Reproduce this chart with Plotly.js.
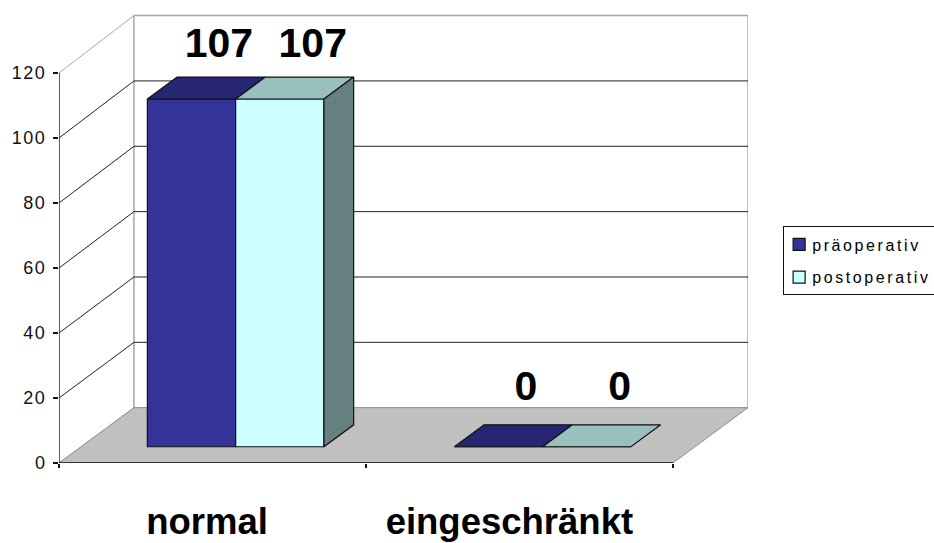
<!DOCTYPE html>
<html>
<head>
<meta charset="utf-8">
<script src="https://cdn.plot.ly/plotly-3.0.1.min.js"></script>
<style>
html,body{margin:0;padding:0;background:#fff;overflow:hidden}
#chart{width:934px;height:543px}
.legendtext{letter-spacing:2.6px;transform:translateX(-12px)}
.legendsymbols{transform:translateX(-5px)}
.ytick text{letter-spacing:1.5px}
</style>
</head>
<body>
<div id="chart"></div>
<script>
// Data
const categories = ["normal", "eingeschränkt"];
const seriesNames = ["präoperativ", "postoperativ"];
const praeoperativ = [107, 0];
const postoperativ = [107, 0];
const valueTicks = [0, 20, 40, 60, 80, 100, 120];

// Colours
const frontColors = ["#333399", "#CCFFFF"];
const topColors = ["#262673", "#99BFBF"];
const sideColors = ["#262673", "#667F7F"];

// Oblique projection of the Excel-style 3-D box, expressed in axis units
const unitsPerDepthX = 75 / 307;   // category units moved by one full depth
const unitsPerDepthY = 55.3 / 3.25; // value units moved by one full depth
const wallStretch = 0.0055;        // slight perspective of the back wall
const barWidth = 0.2876;
const gapLeft = 0.216;
const depthFront = 0.294;
const depthBack = 0.69;
const maxValue = 120;
const catCount = categories.length;
const labelLift = [3.4, 4.9];      // value units above the bar's mid depth
const labelSeriesNudge = 0.018;    // category units per series
const catLabelNudge = [-0.018, -0.033];

const px = (x, d) => x + d * unitsPerDepthX;
const py = (v, d) => v + d * unitsPerDepthY;
const wy = (v, d) => py(v, d) + v * d * wallStretch;

const ink = "#111";
const wallLine = "#a8a8a8";

function poly(points, fill, color, width) {
  const path = points.map((p, i) => (i ? "L" : "M") + p[0] + "," + p[1]).join(" ") + " Z";
  return {type: "path", xref: "x", yref: "y", layer: "below", path, fillcolor: fill,
          line: {color: color, width: width}};
}
function seg(a, b, color, width) {
  return {type: "line", xref: "x", yref: "y", layer: "below", x0: a[0], y0: a[1], x1: b[0], y1: b[1],
          line: {color: color, width: width}};
}

// Walls, floor, gridlines
const shapes = [];
shapes.push(poly([[px(0,0),wy(0,0)],[px(0,1),wy(0,1)],[px(0,1),wy(maxValue,1)],[px(0,0),wy(maxValue,0)]], "#ffffff", wallLine, 1));
shapes.push(poly([[px(0,1),wy(0,1)],[px(catCount,1),wy(0,1)],[px(catCount,1),wy(maxValue,1)],[px(0,1),wy(maxValue,1)]], "#ffffff", wallLine, 1.4));
valueTicks.filter(v => v > 0 && v < maxValue).forEach(v => {
  shapes.push(seg([px(0,0),wy(v,0)],[px(0,1),wy(v,1)], "#222", 1));
  shapes.push(seg([px(0,1),wy(v,1)],[px(catCount,1),wy(v,1)], "#222", 1));
});
shapes.push(poly([[px(0,0),wy(0,0)],[px(catCount,0),wy(0,0)],[px(catCount,1),wy(0,1)],[px(0,1),wy(0,1)]], "#C0C0C0", "#909090", 1));

const series = [praeoperativ, postoperativ];
const traces = [];

// Front faces as real bars, raised to the bars' depth on the floor
series.forEach((vals, s) => {
  traces.push({
    type: "bar", name: seriesNames[s], legendgroup: seriesNames[s],
    x: vals.map((_, c) => px(c + gapLeft + barWidth * (s + 0.5), depthFront)),
    y: vals,
    base: vals.map(() => py(0, depthFront)),
    width: barWidth,
    marker: {color: frontColors[s], line: {color: ink, width: 1.2}},
    hoverinfo: "skip"
  });
});

// Top and side faces
series.forEach((vals, s) => {
  vals.forEach((v, c) => {
    const x0 = c + gapLeft + barWidth * s, x1 = x0 + barWidth;
    const top = [[px(x0,depthFront),py(v,depthFront)],[px(x1,depthFront),py(v,depthFront)],
                 [px(x1,depthBack),py(v,depthBack)],[px(x0,depthBack),py(v,depthBack)],[px(x0,depthFront),py(v,depthFront)]];
    traces.push({type: "scatter", mode: "lines", x: top.map(p => p[0]), y: top.map(p => p[1]),
      fill: "toself", fillcolor: topColors[s], line: {color: ink, width: 1.2},
      showlegend: false, hoverinfo: "skip"});
    if (s === series.length - 1 && v > 0) {
      const side = [[px(x1,depthFront),py(0,depthFront)],[px(x1,depthBack),py(0,depthBack)],
                    [px(x1,depthBack),py(v,depthBack)],[px(x1,depthFront),py(v,depthFront)],[px(x1,depthFront),py(0,depthFront)]];
      traces.push({type: "scatter", mode: "lines", x: side.map(p => p[0]), y: side.map(p => p[1]),
        fill: "toself", fillcolor: sideColors[s], line: {color: ink, width: 1.2},
        showlegend: false, hoverinfo: "skip"});
    }
  });
});

// Data labels
series.forEach((vals, s) => {
  traces.push({
    type: "scatter", mode: "text", showlegend: false, hoverinfo: "skip",
    x: vals.map((_, c) => px(c + gapLeft + barWidth * (s + 0.5) + s * labelSeriesNudge, 0.66)),
    y: vals.map((v, c) => py(v, 0.66) + labelLift[c]),
    text: vals.map(String),
    textposition: "top center",
    textfont: {family: "Liberation Sans, Arial, sans-serif", size: 41, color: "#000", weight: 700},
    cliponaxis: false
  });
});

// Front-left value axis and front floor edge
traces.push({type: "scatter", mode: "lines", x: [px(0,0), px(0,0)], y: [py(0,0), py(maxValue,0)],
  line: {color: ink, width: 1.2}, showlegend: false, hoverinfo: "skip", cliponaxis: false});
traces.push({type: "scatter", mode: "lines", x: [px(0,0), px(catCount,0)], y: [py(0,0), py(0,0)],
  line: {color: ink, width: 1.4}, showlegend: false, hoverinfo: "skip", cliponaxis: false});

const layout = {
  width: 934, height: 543,
  paper_bgcolor: "#fff", plot_bgcolor: "rgba(0,0,0,0)",
  margin: {l: 59, r: 186, t: 14, b: 80, autoexpand: false},
  barmode: "overlay",
  showlegend: true,
  legend: {
    x: 1.051, xref: "paper", xanchor: "left", y: 0.45, yanchor: "middle",
    traceorder: "grouped", tracegroupgap: 9,
    bgcolor: "#fff", bordercolor: "#111", borderwidth: 1,
    font: {family: "Liberation Sans, Arial, sans-serif", size: 16, color: "#000"}
  },
  xaxis: {
    range: [0, 689 / 307], showgrid: false, zeroline: false, showline: false,
    tickmode: "array",
    tickvals: categories.map((_, c) => c + 0.5 + catLabelNudge[c]),
    ticktext: categories,
    ticks: "", ticklabelstandoff: 33,
    tickfont: {family: "Liberation Sans, Arial, sans-serif", size: 36.5, color: "#000", weight: 700},
    minor: {tickmode: "array", tickvals: categories.map((_, c) => c).concat([catCount]), ticks: "outside", ticklen: 4, tickcolor: ink, tickwidth: 1.2, showgrid: false}
  },
  yaxis: {
    range: [0, 449 / 3.25], showgrid: false, zeroline: false, showline: false,
    tickmode: "array", tickvals: valueTicks,
    ticks: "outside", ticklen: 5, tickcolor: ink, tickwidth: 1.2, ticklabelstandoff: 3,
    tickfont: {family: "Liberation Sans, Arial, sans-serif", size: 18, color: "#111"}
  },
  shapes: shapes
};

Plotly.newPlot("chart", traces, layout, {displayModeBar: false, staticPlot: true});
</script>
</body>
</html>
